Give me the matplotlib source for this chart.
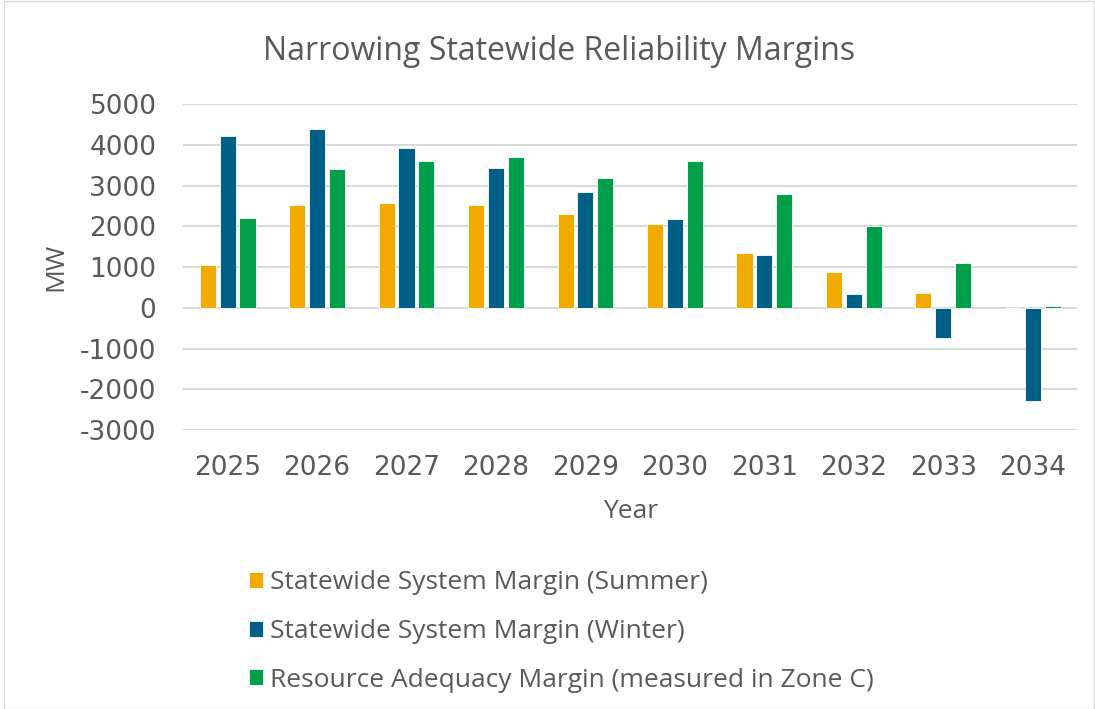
import numpy as np
from matplotlib import pyplot as plt
from matplotlib.patches import Rectangle

years = ["2025", "2026", "2027", "2028", "2029", "2030", "2031", "2032", "2033", "2034"]
summer = [1060, 2530, 2570, 2530, 2300, 2060, 1340, 890, 370, 0]
winter = [4230, 4400, 3930, 3440, 2850, 2180, 1300, 350, -750, -2290]
zone_c = [2200, 3400, 3600, 3700, 3200, 3600, 2800, 2000, 1100, 50]

labels = ["Statewide System Margin (Summer)",
          "Statewide System Margin (Winter)",
          "Resource Adequacy Margin (measured in Zone C)"]
colors = ["#f2a900", "#005f86", "#00a04b"]

plt.rcParams['font.family'] = ['Open Sans', 'DejaVu Sans']
plt.rcParams['axes.unicode_minus'] = False
grey = "#595959"

fig = plt.figure(figsize=(10.95, 7.09), dpi=100)
ax = fig.add_axes([0.167, 0.3935, 0.817, 0.4595])

x = np.arange(len(years))
w = 0.18
step = 0.222
for i, vals in enumerate([summer, winter, zone_c]):
    ax.bar(x + (i - 1) * step, vals, w, color=colors[i], label=labels[i],
           edgecolor="white", linewidth=0.6, zorder=3)

ax.set_ylim(-3000, 5000)
ax.set_xlim(-0.5, len(years) - 0.5)
ax.set_yticks(range(-3000, 5001, 1000))
ax.set_xticks(x)
ax.set_xticklabels(years)
ax.grid(axis="y", color="#d9d9d9", linewidth=1.5, zorder=0)
for s in ax.spines.values():
    s.set_visible(False)
ax.tick_params(length=0, labelsize=19, colors=grey)
ax.tick_params(axis="x", pad=18)
ax.tick_params(axis="y", pad=19)
for t in ax.get_xticklabels() + ax.get_yticklabels():
    t.set_family("DejaVu Sans")

ax.set_xlabel("Year", fontsize=19, color=grey, labelpad=13)
ax.set_ylabel("MW", fontsize=19, color=grey, labelpad=8)
fig.text(0.511, 0.928, "Narrowing Statewide Reliability Margins", ha="center",
         va="center", fontsize=23, color=grey)

leg = fig.legend(loc="upper left", bbox_to_anchor=(0.215, 0.2144), frameon=False,
                 fontsize=19, handlelength=0.55, handleheight=0.55, handletextpad=0.25,
                 labelspacing=0.9, labelcolor=grey, borderpad=0)

fig.patches.append(Rectangle((0.004, 0.0), 0.995, 0.999, transform=fig.transFigure,
                             fill=False, edgecolor="#d9d9d9", linewidth=1))

fig.savefig("out.png", dpi=100)
